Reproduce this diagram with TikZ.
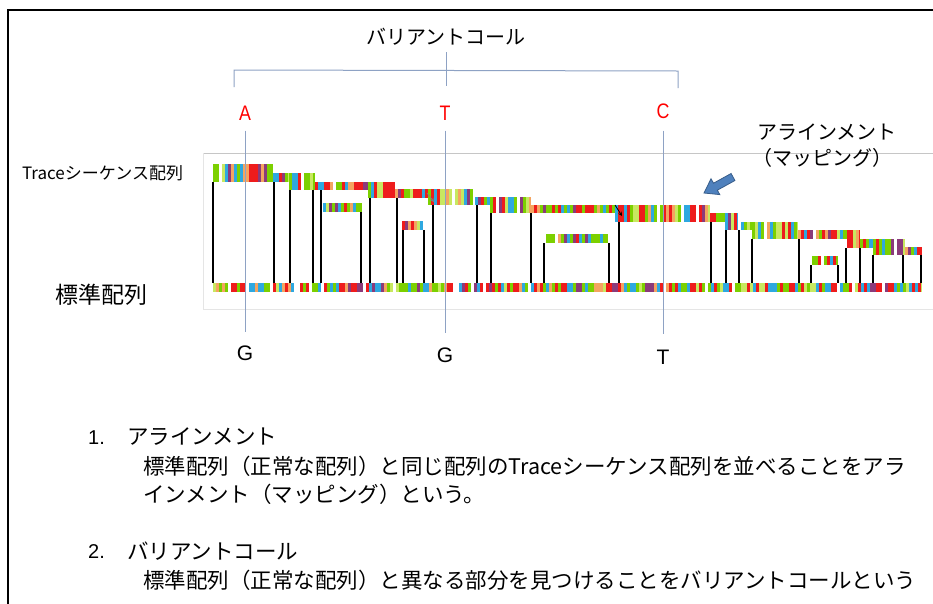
\documentclass[tikz,border=0pt]{standalone}
\usepackage{fontspec}
\setmainfont{Liberation Sans}
\newfontfamily\jpf{Noto Sans CJK JP}
\definecolor{cR}{HTML}{EE1C1C}
\definecolor{cG}{HTML}{7CD000}
\definecolor{cB}{HTML}{2EA8E0}
\definecolor{cP}{HTML}{8B3A7A}
\definecolor{cO}{HTML}{F4A460}
\definecolor{cY}{HTML}{C8E860}
\definecolor{vblue}{HTML}{8EA2C4}
\definecolor{arrfill}{HTML}{4F81BD}
\definecolor{arrdraw}{HTML}{385D8A}
\pgfmathdeclarerandomlist{nuc}{{cR}{cR}{cG}{cG}{cG}{cB}{cP}{cO}{cY}{cR}{cB}{white}}
\newcommand\seqbar[4]{%
  \pgfmathtruncatemacro\sqn{max(0,ceil((#2-#1)/3)-1)}%
  \foreach \i in {0,...,\sqn}{%
    \pgfmathrandomitem{\sqc}{nuc}%
    \pgfmathsetmacro\sqa{#1+3*\i}%
    \pgfmathsetmacro\sqb{min(#1+3*\i+3,#2)}%
    \fill[\sqc] (\sqa,#3) rectangle (\sqb,#4);
  }}
\begin{document}
\begin{tikzpicture}[x=1pt,y=-1pt,
  jp/.style={font={\jpf\fontsize{#1}{#1}\selectfont}, inner sep=0pt},
  lat/.style={font={\fontsize{#1}{#1}\selectfont}, inner sep=0pt, text height=15pt, text depth=0pt},
  brk/.style={draw=vblue, line width=1pt},
  vline/.style={draw=vblue, line width=1pt},
  bline/.style={draw=black, line width=1.3pt},
  frame/.style={draw=black, line width=2.5pt}]
\useasboundingbox (0,0) rectangle (933,603);
\fill[white] (0,0) rectangle (933,603);
\pgfmathsetseed{11}
% outer frame
\draw[frame] (8,610) -- (8,10) -- (940,10);
% panel border
\draw[gray!45, line width=0.8pt] (203,153) -- (940,153);
\draw[gray!20, line width=0.8pt] (203,153) -- (203,309) -- (940,309);
% title and bracket
\node[jp=20] (vc) at (446,37) {バリアントコール};
\coordinate (sT) at (446,52);
\coordinate (sB) at (446,86);
\coordinate (bL) at (234,70);
\coordinate (bR) at (678,71);
\coordinate (bLd) at (234,87);
\coordinate (bRd) at (678,88);
\draw[brk] (sT) -- (sB);
\draw[brk] (bLd) -- (bL) -- (bR) -- (bRd);
% labels
\node[jp=17, anchor=west] (trl) at (22,173) {Traceシーケンス配列};
\node[jp=23, anchor=west] (ref) at (55,295) {標準配列};
\node[jp=20, anchor=west] (al1) at (757,132) {アラインメント};
\node[jp=20, anchor=west] (al2) at (752,158) {（マッピング）};
% reads
\seqbar{213}{273}{164}{182}
\seqbar{273}{289}{173}{182}
\seqbar{289}{315}{173}{190}
\seqbar{315}{368}{182}{190}
\seqbar{368}{395}{182}{198}
\seqbar{395}{428}{189}{198}
\seqbar{428}{475}{189}{205}
\seqbar{475}{490}{197}{205}
\seqbar{490}{531}{197}{213}
\seqbar{531}{615}{205}{213}
\seqbar{615}{710}{205}{222}
\seqbar{710}{725}{213}{222}
\seqbar{725}{738}{213}{230}
\seqbar{738}{752}{222}{230}
\seqbar{752}{798}{222}{239}
\seqbar{798}{847}{230}{239}
\seqbar{847}{860}{230}{248}
\seqbar{860}{873}{239}{248}
\seqbar{873}{905}{239}{255}
\seqbar{905}{922}{247}{255}
\seqbar{323}{362}{203}{212}
\seqbar{402}{423}{221}{230}
\seqbar{543}{608}{234}{243}
\seqbar{812}{838}{256}{265}
% reference bar
\seqbar{213}{922}{283}{292}
% alignment lines
\foreach \xx/\yy in {213/182,274/182,290/190,313/190,321/190,361/212,370/198,397/198,
  403/230,424/230,433/205,477/205,491/213,531/213,544/243,609/243,619/222,711/222,
  726/230,739/230,752/239,799/239,811/265,838/265,846/248,860/248,873/255,903/255,921/255}
  {\draw[bline] (\xx,\yy) -- (\xx,283);}
% small arrows inside reads
\draw[-stealth, black, line width=0.8pt] (615,205) -- (622,216);
\draw[-stealth, gray, line width=0.8pt] (427,193) -- (434,202);
% blue block arrow
\fill[arrfill, draw=arrdraw, line width=0.8pt]
  (731.1,173.5) -- (713.5,183.2) -- (711.0,178.8) -- (704,193) -- (719.8,194.6) -- (717.3,190.2) -- (734.9,180.5) -- cycle;
% variant letters
\node[lat=21, text=red, xscale=0.85] (vA) at (245,113) {A};
\node[lat=21, text=red, xscale=0.85] (vT) at (445,113) {T};
\node[lat=21, text=red, xscale=0.85] (vC) at (663,111) {C};
\node[lat=21] (rG1) at (245,353) {G};
\node[lat=21] (rG2) at (445,355) {G};
\node[lat=21] (rT) at (663,357) {T};
\draw[vline, shorten <=10pt, shorten >=13pt] (vA) -- (rG1);
\draw[vline, shorten <=10pt, shorten >=14pt] (vT) -- (rG2);
\draw[vline, shorten <=12pt, shorten >=15pt] (vC) -- (rT);
% bottom text
\node[lat=20, anchor=west] (n1) at (88,437) {1.};
\node[jp=21.5, anchor=west] (h1) at (127,437) {アラインメント};
\node[jp=21.5, anchor=west] (b1) at (143,466) {標準配列（正常な配列）と同じ配列のTraceシーケンス配列を並べることをアラ};
\node[jp=21.5, anchor=west] (b2) at (143,494) {インメント（マッピング）という。};
\node[lat=20, anchor=west] (n2) at (88,551) {2.};
\node[jp=21.5, anchor=west] (h2) at (127,551) {バリアントコール};
\node[jp=21.5, anchor=west] (b3) at (143,580) {標準配列（正常な配列）と異なる部分を見つけることをバリアントコールという};
\end{tikzpicture}
\end{document}
